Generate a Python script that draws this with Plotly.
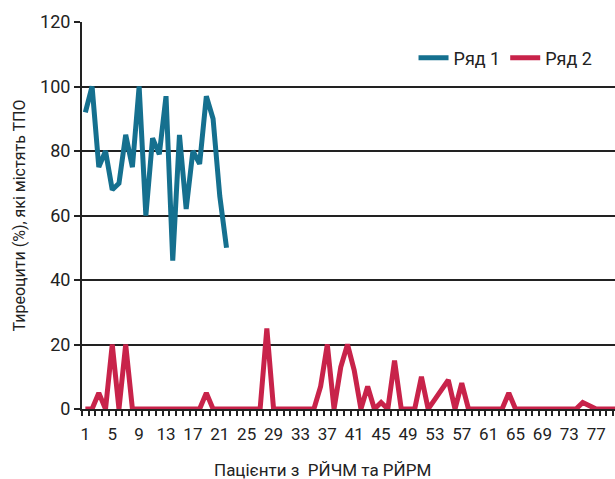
import plotly.graph_objects as go

patients = list(range(1, 81))
series1_name = "Ряд 1"
series2_name = "Ряд 2"
series1 = [92, 100, 75, 80, 68, 70, 85, 75, 100, 60, 84, 79, 97, 46, 85, 62,
           80, 76, 97, 90, 66, 50]
series2 = [0, 0, 5, 0, 20, 0, 20, 0, 0, 0, 0, 0, 0, 0, 0, 0, 0, 0, 5, 0,
           0, 0, 0, 0, 0, 0, 0, 25, 0, 0, 0, 0, 0, 0, 0, 7, 20, 0, 13, 20,
           12, 0, 7, 0, 2, 0, 15, 0, 0, 0, 10, 0, 3, 6, 9, 0, 8, 0, 0, 0,
           0, 0, 0, 5, 0, 0, 0, 0, 0, 0, 0, 0, 0, 0, 2, 1, 0, 0, 0, 0]
x_ticks = list(range(1, 80, 4))
y_ticks = [0, 20, 40, 60, 80, 100, 120]
x_title = "Пацієнти з  РЙЧМ та РЙРМ"
y_title = "Тиреоцити (%), які містять ТПО"

FONT = "Roboto, sans-serif"
BLUE = "#15708f"
RED = "#c8234a"
INK = "#222"

fig = go.Figure()
fig.add_trace(go.Scatter(x=patients[:len(series1)], y=series1, mode="lines",
                         name=series1_name, line=dict(color=BLUE, width=5)))
fig.add_trace(go.Scatter(x=patients[:len(series2)], y=series2, mode="lines",
                         name=series2_name, line=dict(color=RED, width=5)))

fig.update_layout(
    width=615, height=479,
    margin=dict(l=82, r=0, t=22, b=70),
    paper_bgcolor="white", plot_bgcolor="white",
    font=dict(family=FONT, size=17, color=INK),
    showlegend=True,
    legend=dict(orientation="h", x=0.622, y=0.907, xanchor="left", yanchor="middle",
                font=dict(size=18, family=FONT, color=INK), bgcolor="rgba(0,0,0,0)",
                itemwidth=30),
    xaxis=dict(range=[0.5, 79.8], tickmode="array", tickvals=x_ticks,
               ticktext=[str(v) for v in x_ticks], ticks="outside", ticklen=9,
               tickcolor="rgba(0,0,0,0)", showgrid=False, zeroline=False,
               showline=True, linecolor=INK, linewidth=2,
               tickfont=dict(size=17, family=FONT, color=INK),
               minor=dict(tickmode="linear", tick0=0.5, dtick=1, ticks="outside",
                          ticklen=5, tickcolor=INK, tickwidth=1.5, showgrid=False)),
    yaxis=dict(range=[0, 120], tickvals=y_ticks, ticks="outside", ticklen=6,
               tickcolor=INK, tickwidth=2, showgrid=True, gridcolor=INK,
               gridwidth=2, zeroline=False, showline=True, linecolor=INK,
               linewidth=2, tickfont=dict(size=18, family=FONT, color=INK),
               title=dict(text=y_title, font=dict(size=16, family=FONT, color=INK),
                          standoff=10)),
    annotations=[dict(text=x_title, x=0.452, y=-0.157, xref="paper", yref="paper",
                      xanchor="center", yanchor="middle", showarrow=False,
                      font=dict(size=17, family=FONT, color=INK))],
)

fig.write_html("out.html", config={"displayModeBar": False},
               post_script="document.body.style.margin='0';")
